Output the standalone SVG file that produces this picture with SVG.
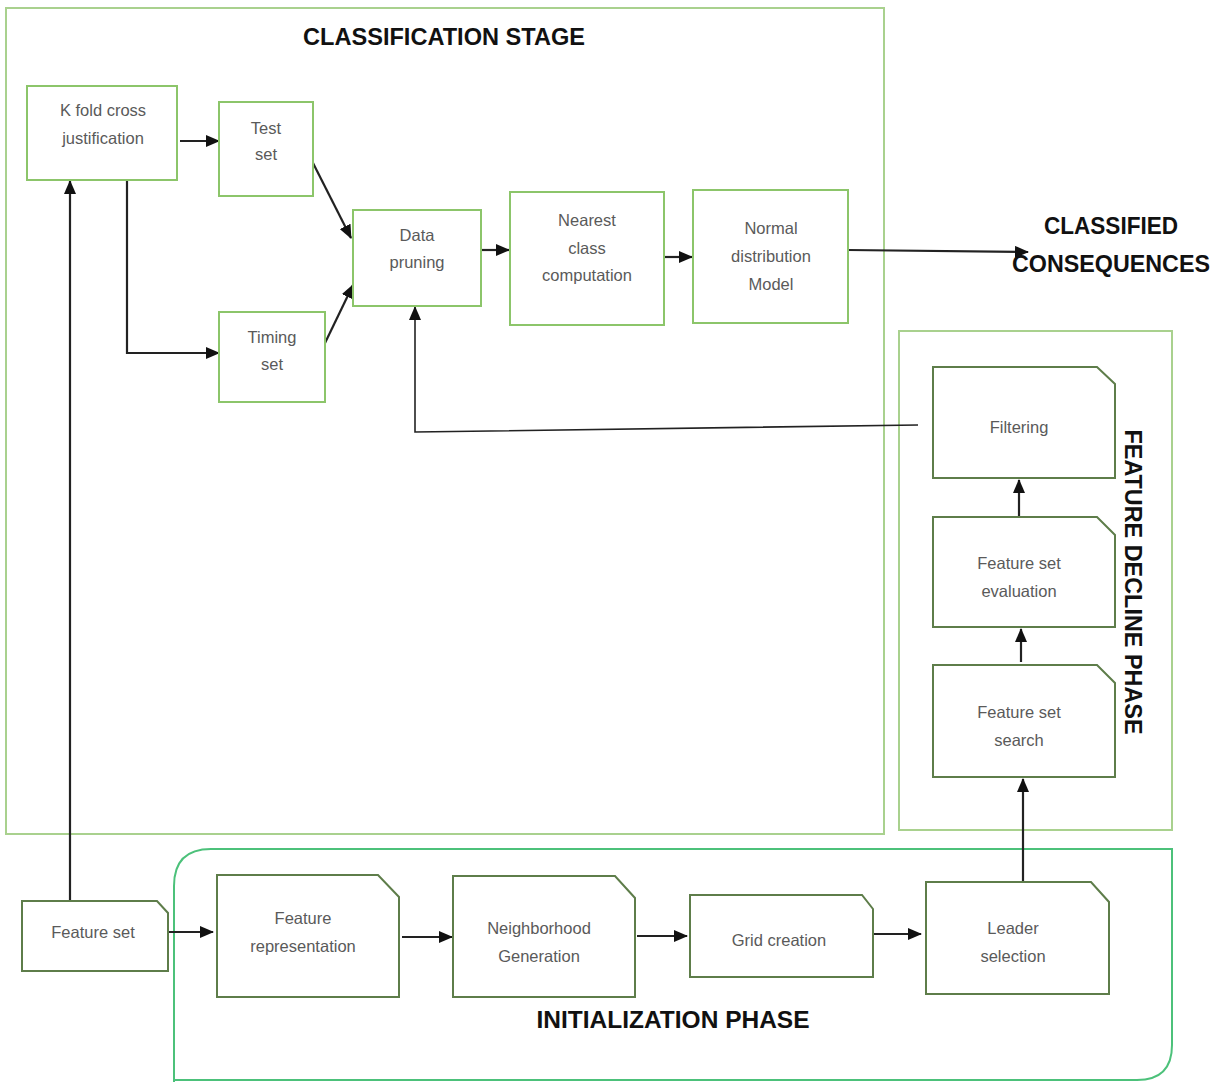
<svg xmlns="http://www.w3.org/2000/svg" width="1216" height="1082" viewBox="0 0 1216 1082">
<defs>
<marker id="ah" viewBox="0 0 14 12" refX="13" refY="6" markerWidth="14" markerHeight="12" markerUnits="userSpaceOnUse" orient="auto">
<path d="M0,0 L14,6 L0,12 Z" fill="#111"/>
</marker>
</defs>
<style>
.bg{fill:#fff}
.frame{fill:none;stroke:#a9d18e;stroke-width:2}
.init{fill:none;stroke:#4cc17a;stroke-width:2}
.cn{fill:#fff;stroke:#8cc56a;stroke-width:2}
.dn{fill:#fff;stroke:#5e7d4a;stroke-width:2}
.t{font-family:"Liberation Sans",Arial,sans-serif;font-size:16.5px;fill:#5a5a5a;text-anchor:middle}
.title{font-family:"Liberation Sans",Arial,sans-serif;font-size:23px;font-weight:bold;fill:#111;text-anchor:middle}
.ca{fill:none;stroke:#222;stroke-width:2.2;marker-end:url(#ah)}
</style>
<rect class="bg" x="0" y="0" width="1216" height="1082"/>

<g id="frames">
<rect id="classification-stage" class="frame" x="6" y="8" width="878" height="826"/>
<rect id="feature-decline-phase" class="frame" x="899" y="331" width="273" height="499"/>
<path id="initialization-phase" class="init" d="M174,1082 L174,886 Q174,849 211,849 L1172,849 L1172,1045 Q1172,1080 1137,1080 L174,1080"/>
</g>

<g id="titles">
<text class="title" x="444" y="45" textLength="282" lengthAdjust="spacingAndGlyphs">CLASSIFICATION STAGE</text>
<text class="title" x="1111" y="234" textLength="134" lengthAdjust="spacingAndGlyphs">CLASSIFIED</text>
<text class="title" x="1111" y="272" textLength="198" lengthAdjust="spacingAndGlyphs">CONSEQUENCES</text>
<text class="title" x="673" y="1028" textLength="273" lengthAdjust="spacingAndGlyphs">INITIALIZATION PHASE</text>
<text class="title" transform="translate(1125,582) rotate(90)" x="0" y="0" textLength="305" lengthAdjust="spacingAndGlyphs">FEATURE DECLINE PHASE</text>
</g>

<g id="connectors">
<line class="ca" x1="180" y1="141" x2="219" y2="141"/>
<polyline class="ca" points="127,180 127,353 219,353"/>
<line class="ca" x1="313" y1="163" x2="351" y2="238"/>
<line class="ca" x1="325" y1="343" x2="353" y2="285"/>
<line class="ca" x1="482" y1="250" x2="509" y2="250"/>
<line class="ca" x1="664" y1="257" x2="692" y2="257"/>
<line class="ca" x1="848" y1="250" x2="1028" y2="252"/>
<polyline class="ca" points="918,425 415,432 415,307" style="stroke-width:1.6"/>
<line class="ca" x1="70" y1="901" x2="70" y2="181"/>
<line class="ca" x1="1019" y1="517" x2="1019" y2="480"/>
<line class="ca" x1="1021" y1="662" x2="1021" y2="629"/>
<line class="ca" x1="1023" y1="882" x2="1023" y2="779"/>
<line class="ca" x1="163" y1="932" x2="213" y2="932"/>
<line class="ca" x1="402" y1="937" x2="452" y2="937"/>
<line class="ca" x1="637" y1="936" x2="687" y2="936"/>
<line class="ca" x1="873" y1="934" x2="921" y2="934"/>
</g>

<g id="k-fold">
<rect class="cn" x="27" y="86" width="150" height="94"/>
<text class="t" x="103" y="116">K fold cross</text>
<text class="t" x="103" y="144">justification</text>
</g>
<g id="test-set">
<rect class="cn" x="219" y="102" width="94" height="94"/>
<text class="t" x="266" y="134">Test</text>
<text class="t" x="266" y="160">set</text>
</g>
<g id="timing-set">
<rect class="cn" x="219" y="312" width="106" height="90"/>
<text class="t" x="272" y="343">Timing</text>
<text class="t" x="272" y="370">set</text>
</g>
<g id="data-pruning">
<rect class="cn" x="353" y="210" width="128" height="96"/>
<text class="t" x="417" y="241">Data</text>
<text class="t" x="417" y="268">pruning</text>
</g>
<g id="nearest-class">
<rect class="cn" x="510" y="192" width="154" height="133"/>
<text class="t" x="587" y="226">Nearest</text>
<text class="t" x="587" y="254">class</text>
<text class="t" x="587" y="281">computation</text>
</g>
<g id="normal-distribution">
<rect class="cn" x="693" y="190" width="155" height="133"/>
<text class="t" x="771" y="234">Normal</text>
<text class="t" x="771" y="262">distribution</text>
<text class="t" x="771" y="290">Model</text>
</g>

<g id="filtering">
<path class="dn" d="M933,367 L1097,367 L1115,384 L1115,478 L933,478 Z"/>
<text class="t" x="1019" y="433">Filtering</text>
</g>
<g id="feature-set-evaluation">
<path class="dn" d="M933,517 L1097,517 L1115,535 L1115,627 L933,627 Z"/>
<text class="t" x="1019" y="569">Feature set</text>
<text class="t" x="1019" y="597">evaluation</text>
</g>
<g id="feature-set-search">
<path class="dn" d="M933,665 L1097,665 L1115,683 L1115,777 L933,777 Z"/>
<text class="t" x="1019" y="718">Feature set</text>
<text class="t" x="1019" y="746">search</text>
</g>

<g id="feature-set">
<path class="dn" d="M22,901 L157,901 L168,913 L168,971 L22,971 Z"/>
<text class="t" x="93" y="938">Feature set</text>
</g>
<g id="feature-representation">
<path class="dn" d="M217,875 L378,875 L399,897 L399,997 L217,997 Z"/>
<text class="t" x="303" y="924">Feature</text>
<text class="t" x="303" y="952">representation</text>
</g>
<g id="neighborhood-generation">
<path class="dn" d="M453,876 L615,876 L635,898 L635,997 L453,997 Z"/>
<text class="t" x="539" y="934">Neighborhood</text>
<text class="t" x="539" y="962">Generation</text>
</g>
<g id="grid-creation">
<path class="dn" d="M690,895 L862,895 L873,909 L873,977 L690,977 Z"/>
<text class="t" x="779" y="946">Grid creation</text>
</g>
<g id="leader-selection">
<path class="dn" d="M926,882 L1091,882 L1109,902 L1109,994 L926,994 Z"/>
<text class="t" x="1013" y="934">Leader</text>
<text class="t" x="1013" y="962">selection</text>
</g>
</svg>
